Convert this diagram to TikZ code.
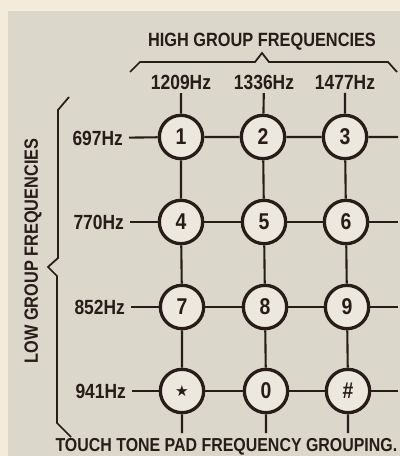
\documentclass[tikz,border=0pt]{standalone}
\usepackage{fontspec}
\setmainfont[FakeStretch=0.85]{Liberation Sans Bold}
\newfontfamily\symfont{DejaVu Sans}
\usepackage{tikz}
\usetikzlibrary{positioning}

\definecolor{paper}{RGB}{244,235,219}
\definecolor{panel}{RGB}{219,215,203}
\definecolor{keyfill}{RGB}{236,232,222}
\definecolor{ink}{RGB}{40,28,24}

\begin{document}
\begin{tikzpicture}[
  x=0.03cm, y=-0.03cm,
  key/.style={circle, draw=ink, line width=2.8pt, fill=keyfill, minimum size=37pt, inner sep=0pt, font=\fontsize{19.5}{20}\selectfont, text=ink},
  freq/.style={font=\fontsize{17.5}{18}\selectfont, text=ink, inner sep=3pt},
  wire/.style={draw=ink, line width=1.8pt},
  brace/.style={draw=ink, line width=1.5pt, line join=miter}
]
  % Paper and panel
  \fill[paper] (0,0) rectangle (400,456);
  \fill[panel] (8,11) rectangle (400,456);
  \useasboundingbox (0,0) rectangle (400,456);

  % Keys
  \node[key] at (181,137) (k1) {1};
  \node[key] at (263,137) (k2) {2};
  \node[key] at (345,137) (k3) {3};
  \node[key] at (181,222) (k4) {4};
  \node[key] at (264,222) (k5) {5};
  \node[key] at (346,222) (k6) {6};
  \node[key] at (182,307) (k7) {7};
  \node[key] at (265,307) (k8) {8};
  \node[key] at (347,307) (k9) {9};
  \node[key] at (182,391) (kstar) {\symfont\fontsize{13}{13}\selectfont ★};
  \node[key] at (266,391) (k0) {0};
  \node[key] at (348,391) (khash) {\#};

  % Low group frequencies
  \node[freq, anchor=east, inner sep=5pt] at (129,138) (r697) {697Hz};
  \node[freq, anchor=east, inner sep=5pt] at (130,222) (r770) {770Hz};
  \node[freq, anchor=east, inner sep=5pt] at (131,307) (r852) {852Hz};
  \node[freq, anchor=east, inner sep=5pt] at (132,391) (r941) {941Hz};

  % High group frequencies
  \node[freq] at (181,82) (c1209) {1209Hz};
  \node[freq] at (264,82) (c1336) {1336Hz};
  \node[freq] at (345,82) (c1477) {1477Hz};

  % Free ends
  \coordinate (e1) at (398,137);
  \coordinate (e2) at (398,222);
  \coordinate (e3) at (398,307);
  \coordinate (e4) at (398,391);
  \coordinate (b1) at (182,433);
  \coordinate (b2) at (266,433);
  \coordinate (b3) at (348,433);

  % Row wires
  \draw[wire] (r697) -- (k1) -- (k2) -- (k3) -- (e1);
  \draw[wire] (r770) -- (k4) -- (k5) -- (k6) -- (e2);
  \draw[wire] (r852) -- (k7) -- (k8) -- (k9) -- (e3);
  \draw[wire] (r941) -- (kstar) -- (k0) -- (khash) -- (e4);

  % Column wires
  \draw[wire] (c1209) -- (k1) -- (k4) -- (k7) -- (kstar) -- (b1);
  \draw[wire] (c1336) -- (k2) -- (k5) -- (k8) -- (k0) -- (b2);
  \draw[wire] (c1477) -- (k3) -- (k6) -- (k9) -- (khash) -- (b3);

  % Braces
  \draw[brace] (130,72) -- (140,62) -- (255,62) -- (262,53) -- (269,62) -- (388,62) -- (397,72);
  \draw[brace] (69,97) -- (58,110) -- (58,258) -- (48,267) -- (57,276) -- (57,423) -- (71,437);

  % Titles
  \node[freq, font=\fontsize{16.4}{17}\selectfont] at (262,42) (high) {HIGH GROUP FREQUENCIES};
  \node[freq, font=\fontsize{16.4}{17}\selectfont, rotate=90] at (33,251) (low) {LOW GROUP FREQUENCIES};
  \node[freq, font=\fontsize{16}{17}\selectfont, anchor=east] at (401,447) (caption) {TOUCH TONE PAD FREQUENCY GROUPING.};

\end{tikzpicture}
\end{document}
